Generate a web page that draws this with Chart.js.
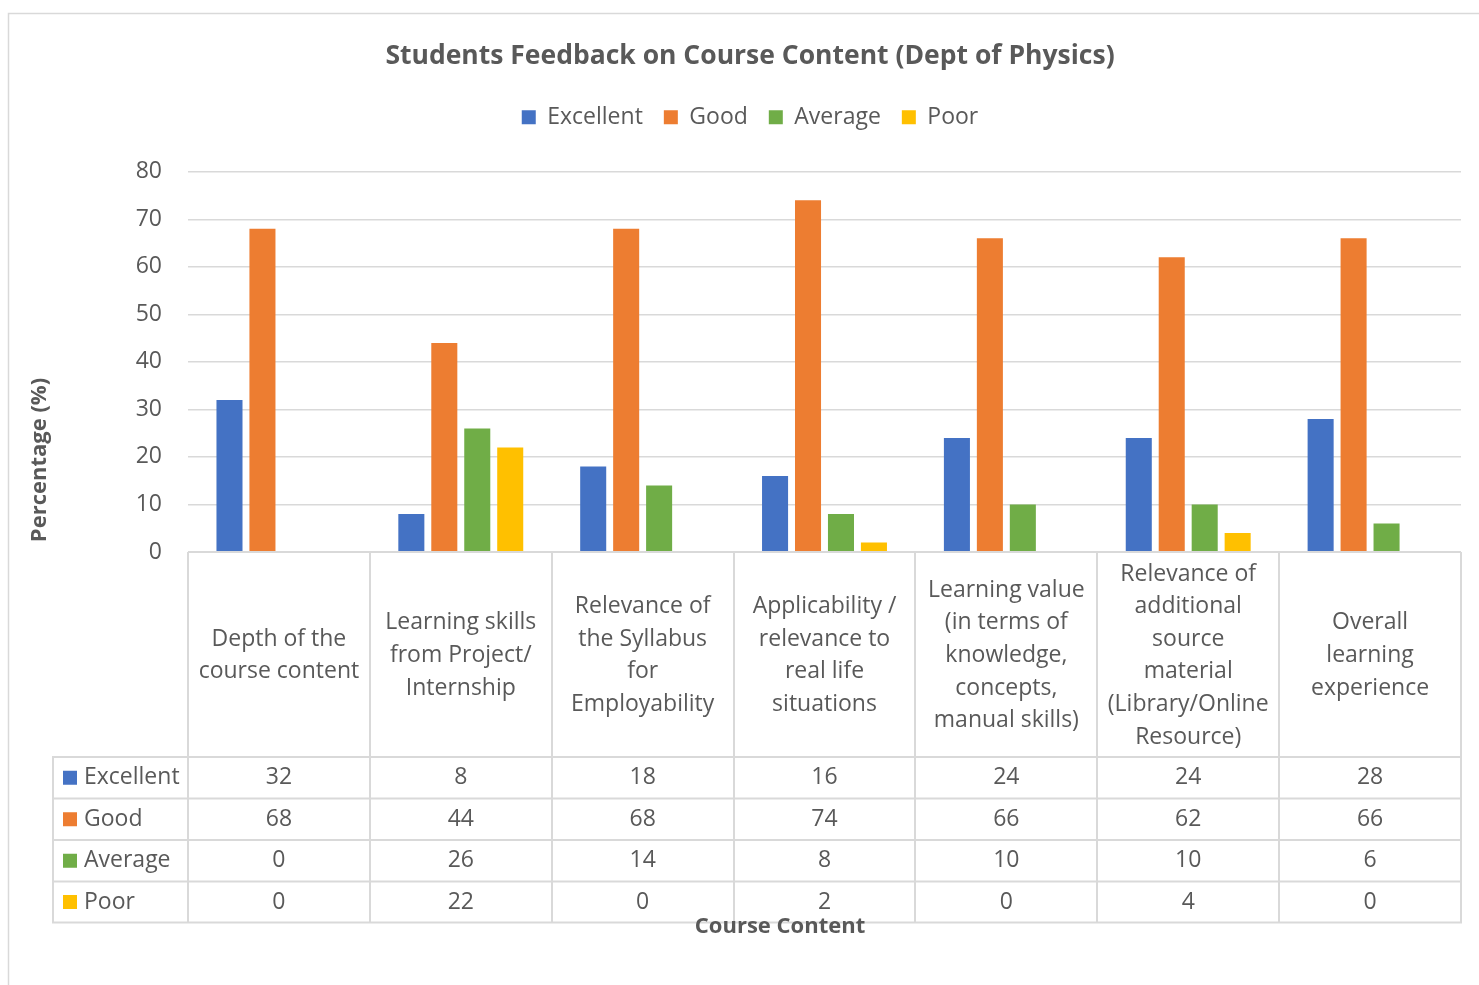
<!DOCTYPE html>
<html><head><meta charset="utf-8">
<script src="https://cdn.jsdelivr.net/npm/chart.js@4.4.0/dist/chart.umd.min.js"></script>
<style>html,body{margin:0;padding:0;background:#fff;overflow:hidden}#wrap{width:1479px;height:985px;position:relative}</style>
</head><body><div id="wrap"><canvas id="c" width="1479" height="985"></canvas></div>
<script>
const categories = [
  ["Depth of the", "course content"],
  ["Learning skills", "from Project/", "Internship"],
  ["Relevance of", "the Syllabus", "for", "Employability"],
  ["Applicability /", "relevance to", "real life", "situations"],
  ["Learning value", "(in terms of", "knowledge,", "concepts,", "manual skills)"],
  ["Relevance of", "additional", "source", "material", "(Library/Online", "Resource)"],
  ["Overall", "learning", "experience"]
];
const seriesNames = ["Excellent", "Good", "Average", "Poor"];
const excellent = [32, 8, 18, 16, 24, 24, 28];
const good = [68, 44, 68, 74, 66, 62, 66];
const average = [0, 26, 14, 8, 10, 10, 6];
const poor = [0, 22, 0, 2, 0, 4, 0];
const yTickValues = [0, 10, 20, 30, 40, 50, 60, 70, 80];
const chartTitle = "Students Feedback on Course Content (Dept of Physics)";
const yAxisTitle = "Percentage (%)";
const xAxisTitle = "Course Content";

const seriesValues = [excellent, good, average, poor];
const colors = ["#4472C4", "#ED7D31", "#70AD47", "#FFC000"];
const FONT = "'Open Sans', Carlito, Calibri, Lato, sans-serif";
const TEXT = "#595959";
const LINE = "#d9d9d9";

const tablePlugin = {
  id: 'tablePlugin',
  beforeDraw(chart) {
    const ctx = chart.ctx;
    ctx.save();
    ctx.fillStyle = '#fff';
    ctx.fillRect(0, 0, chart.width, chart.height);
    ctx.strokeStyle = LINE;
    ctx.lineWidth = 1.5;
    ctx.strokeRect(8.5, 13.5, chart.width + 20, chart.height + 20);
    ctx.restore();
  },
  afterDraw(chart) {
    const ctx = chart.ctx, x = chart.scales.x, area = chart.chartArea;
    const n = categories.length;
    const step = x.getPixelForValue(1) - x.getPixelForValue(0);
    const bounds = [];
    for (let i = 0; i <= n; i++) bounds.push(x.getPixelForValue(0) - step / 2 + i * step);
    const top = area.bottom;
    const rowTops = [757, 798.5, 840, 881.5, 922.5];
    const keyLeft = 53;
    ctx.save();
    ctx.strokeStyle = LINE;
    ctx.lineWidth = 2;
    ctx.beginPath();
    for (let i = 0; i <= n; i++) {
      ctx.moveTo(Math.round(bounds[i]), top);
      ctx.lineTo(Math.round(bounds[i]), rowTops[rowTops.length - 1]);
    }
    ctx.moveTo(keyLeft, rowTops[0]);
    ctx.lineTo(keyLeft, rowTops[rowTops.length - 1]);
    ctx.moveTo(bounds[0], top); ctx.lineTo(bounds[n], top);
    rowTops.forEach(y => { ctx.moveTo(keyLeft - 1, y); ctx.lineTo(bounds[n] + 1, y); });
    ctx.stroke();

    ctx.fillStyle = TEXT;
    ctx.font = "23px " + FONT;
    ctx.textAlign = 'center';
    ctx.textBaseline = 'middle';
    const lh = 32.6;
    const hc = (top + rowTops[0]) / 2 + 1;
    categories.forEach((lines, i) => {
      const cx = x.getPixelForValue(i);
      const y0 = hc - (lines.length - 1) * lh / 2;
      lines.forEach((t, j) => ctx.fillText(t, cx, y0 + j * lh));
    });
    seriesValues.forEach((vals, r) => {
      const cy = (rowTops[r] + rowTops[r + 1]) / 2;
      ctx.textAlign = 'center';
      vals.forEach((v, i) => ctx.fillText(String(v), x.getPixelForValue(i), cy));
      ctx.fillStyle = colors[r];
      ctx.fillRect(63, cy - 7, 14, 14);
      ctx.fillStyle = TEXT;
      ctx.textAlign = 'left';
      ctx.fillText(seriesNames[r], 84, cy);
    });
    ctx.font = "bold 22px " + FONT;
    ctx.textAlign = 'center';
    ctx.fillText(xAxisTitle, 780, 927);
    ctx.translate(40, 460);
    ctx.rotate(-Math.PI / 2);
    ctx.fillText(yAxisTitle, 0, 0);
    ctx.restore();
  }
};

new Chart(document.getElementById('c'), {
  type: 'bar',
  data: {
    labels: categories,
    datasets: seriesNames.map((name, i) => ({
      label: name,
      data: seriesValues[i],
      backgroundColor: colors[i],
      borderWidth: 0,
      categoryPercentage: 0.725,
      barPercentage: 0.79
    }))
  },
  options: {
    responsive: false,
    animation: false,
    devicePixelRatio: 1,
    layout: { padding: { left: 39, right: 18, top: 0, bottom: 433 } },
    plugins: {
      title: {
        display: true,
        text: chartTitle,
        color: TEXT,
        font: { family: FONT, size: 26.5, weight: 'bold' },
        padding: { top: 41, bottom: 12 }
      },
      subtitle: {
        display: true,
        text: '',
        font: { family: FONT, size: 10 },
        padding: { top: 21, bottom: 0 }
      },
      legend: {
        display: true,
        position: 'top',
        weight: 1800,
        labels: {
          color: TEXT,
          font: { family: FONT, size: 23 },
          boxWidth: 14,
          boxHeight: 14,
          padding: 21
        }
      },
      tooltip: { enabled: false }
    },
    scales: {
      x: {
        display: false,
        offset: true
      },
      y: {
        min: 0,
        max: 80,
        afterBuildTicks(scale) { scale.ticks = yTickValues.map(v => ({ value: v })); },
        afterFit(scale) { scale.width = 149; },
        border: { display: false },
        grid: { color: LINE, lineWidth: 1.5, drawTicks: false },
        ticks: {
          color: TEXT,
          font: { family: FONT, size: 23 },
          padding: 26
        }
      }
    }
  },
  plugins: [tablePlugin]
});
</script>
</body></html>
